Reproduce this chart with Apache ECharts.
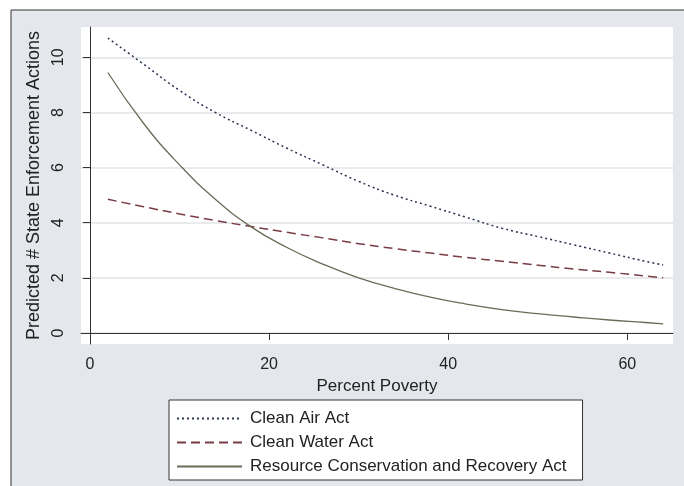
<!DOCTYPE html>
<html>
<head>
  <meta charset="UTF-8"/>
  <title>Predicted enforcement actions</title>
  <script src="https://cdn.jsdelivr.net/npm/echarts@6/dist/echarts.min.js"></script>
  <style>
    html, body { margin: 0; padding: 0; background: #fff; }
    #main { width: 684px; height: 486px; }
  </style>
</head>
<body>
<div id="main"></div>
<script type="text/javascript">
    // percent poverty (x) and predicted counts
    const poverty = [2, 6, 10, 14, 18, 22, 26, 30, 34, 38, 42, 46, 50, 54, 58, 62, 64];
    const cleanAir = [10.7, 9.75, 8.8, 8.0, 7.35, 6.7, 6.1, 5.5, 5.0, 4.6, 4.2, 3.8, 3.5, 3.2, 2.9, 2.6, 2.47];
    const cleanWater = [4.85, 4.58, 4.32, 4.08, 3.86, 3.65, 3.45, 3.24, 3.06, 2.9, 2.74, 2.6, 2.46, 2.32, 2.2, 2.07, 2.0];
    const rcra = [9.45, 7.6, 6.1, 4.85, 3.85, 3.1, 2.5, 2.0, 1.62, 1.3, 1.05, 0.85, 0.7, 0.58, 0.47, 0.38, 0.33];
    const xTicks = [0, 20, 40, 60];
    const yTicks = [0, 2, 4, 6, 8, 10];

    const font = '"Liberation Sans", Arial, sans-serif';

    function pairs(ys) {
        return poverty.map((x, i) => [x, ys[i]]);
    }

    let myChart = echarts.init(document.getElementById('main'));
    let option = {
        animation: false,
        backgroundColor: '#ffffff',
        textStyle: { fontFamily: font },
        graphic: [{
            type: 'rect',
            z: -10,
            shape: { x: 11, y: 10, width: 720, height: 520 },
            style: { fill: '#e4e8ec', stroke: '#333333', lineWidth: 1 }
        }],
        grid: {
            left: 81, top: 27, right: 11, bottom: 142,
            show: true,
            backgroundColor: '#ffffff',
            borderWidth: 0
        },
        legend: {
            orient: 'vertical',
            left: 169, top: 400,
            padding: [10, 16, 5, 7],
            itemWidth: 65, itemHeight: 16, itemGap: 7,
            itemStyle: { opacity: 0 },
            backgroundColor: '#ffffff',
            borderColor: '#333333', borderWidth: 1,
            textStyle: { fontFamily: font, fontSize: 17, color: '#222222', padding: [0, 0, 0, 3] },
            data: ['Clean Air Act', 'Clean Water Act', 'Resource Conservation and Recovery Act']
        },
        xAxis: {
            type: 'value',
            min: -1, max: 65.1,
            name: 'Percent Poverty',
            nameLocation: 'middle',
            nameGap: 28,
            nameTextStyle: { fontFamily: font, fontSize: 17, color: '#222222' },
            axisLine: { show: true, lineStyle: { color: '#333333', width: 1 } },
            axisTick: { show: true, length: 7, customValues: xTicks, lineStyle: { color: '#333333' } },
            axisLabel: { customValues: xTicks, margin: 13, fontSize: 16, color: '#222222', fontFamily: font },
            splitLine: { show: false }
        },
        yAxis: {
            type: 'value',
            min: -0.4, max: 11.1,
            splitNumber: 5,
            name: 'Predicted # State Enforcement Actions',
            nameLocation: 'middle',
            nameGap: 29,
            nameTextStyle: { fontFamily: font, fontSize: 18, color: '#222222' },
            axisLine: { show: true, lineStyle: { color: '#333333', width: 1 } },
            axisTick: { show: true, length: 7, customValues: yTicks, lineStyle: { color: '#333333' } },
            axisLabel: { customValues: yTicks, rotate: 90, margin: 14, fontSize: 16, color: '#222222', fontFamily: font },
            splitLine: { show: true, lineStyle: { color: '#e8eaec', width: 2 } }
        },
        series: [
            {
                name: 'Clean Air Act',
                type: 'line',
                smooth: true,
                symbol: 'none',
                data: pairs(cleanAir),
                lineStyle: { color: '#2a3450', width: 1.5, type: [2, 3] },
                itemStyle: { color: '#2a3450' }
            },
            {
                name: 'Clean Water Act',
                type: 'line',
                smooth: true,
                symbol: 'none',
                data: pairs(cleanWater),
                lineStyle: { color: '#7a3c44', width: 1.5, type: [9, 5] },
                itemStyle: { color: '#7a3c44' }
            },
            {
                name: 'Resource Conservation and Recovery Act',
                type: 'line',
                smooth: true,
                symbol: 'none',
                data: pairs(rcra),
                lineStyle: { color: '#6b6b58', width: 1.3 },
                itemStyle: { color: '#6b6b58' }
            }
        ]
    };
    myChart.setOption(option);
</script>
</body>
</html>
